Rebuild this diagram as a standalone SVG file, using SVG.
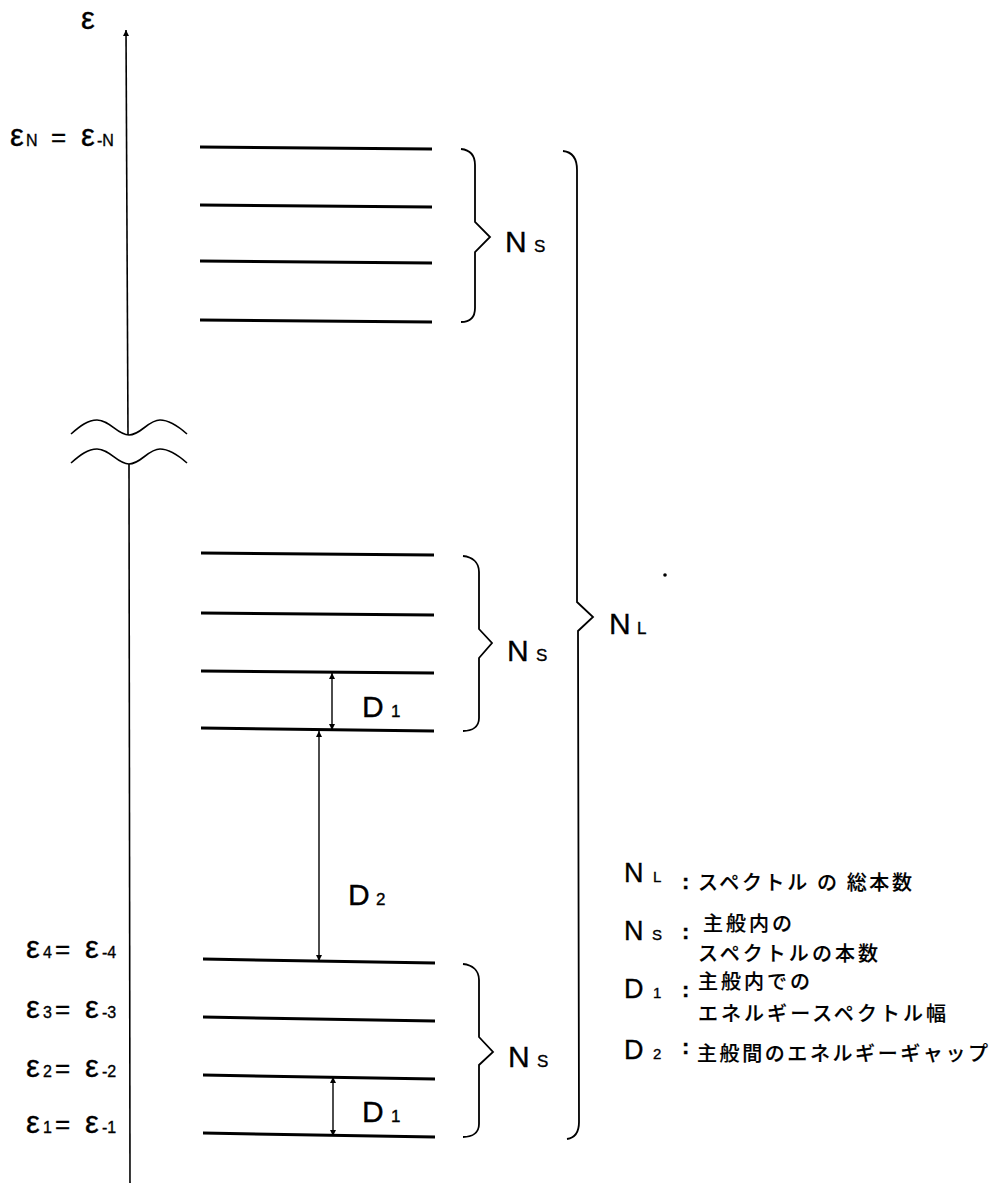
<svg xmlns="http://www.w3.org/2000/svg" width="998" height="1183" viewBox="0 0 998 1183">
<style>
.lvl{stroke:#000;stroke-width:3;fill:none}
.ax{stroke:#000;stroke-width:1.6;fill:none}
.br{stroke:#000;stroke-width:1.8;fill:none;stroke-linejoin:miter}
.arr{stroke:#000;stroke-width:1.4;fill:none;marker-start:url(#ah);marker-end:url(#ah)}
.t{font-family:"Liberation Sans",Arial,sans-serif;fill:#000;stroke:#000;stroke-width:0.35}
.big{font-size:30px}
.sub{font-size:17px}
.eps{font-size:31px}
.esub{font-size:16px}
.eq{font-size:26px}
.leg{font-size:27px}
.lsub{font-size:15px}
.col{font-size:22px;font-weight:bold}
.jp{font-family:"Noto Sans CJK JP",sans-serif;font-size:20px;font-weight:500;fill:#000;stroke:#000;stroke-width:0.15}
</style>
<defs>
<marker id="ah" viewBox="0 0 10 10" refX="10" refY="5" markerWidth="7" markerHeight="6" orient="auto-start-reverse" markerUnits="userSpaceOnUse">
<path d="M0,0 L10,5 L0,10 z" fill="#000"/>
</marker>
<marker id="axh" viewBox="0 0 10 10" refX="10" refY="5" markerWidth="9" markerHeight="6" orient="auto" markerUnits="userSpaceOnUse">
<path d="M0,0 L10,5 L0,10 z" fill="#000"/>
</marker>
</defs>

<g id="axis">
<line class="ax" x1="128" y1="435" x2="126" y2="30" marker-end="url(#axh)"/>
<line class="ax" x1="129" y1="464" x2="130" y2="1183"/>
<path class="ax" d="M71,434 C80,426 88,420 97,420 C110,420 117,435 129,435 C141,435 148,420 160,420 C169,420 178,426 187,434"/>
<path class="ax" d="M71,463 C80,455 88,449 97,449 C110,449 117,464 129,464 C141,464 148,449 160,449 C169,449 178,455 187,463"/>
<text class="t eps" x="81" y="29">ε</text>
</g>

<g id="labels-eps">
<text class="t" y="146"><tspan class="eps" x="10">ε</tspan><tspan class="esub" x="26">N</tspan><tspan class="eq" x="51">=</tspan><tspan class="eps" x="81">ε</tspan><tspan class="esub" x="97">-N</tspan></text>
<text class="t" y="958"><tspan class="eps" x="26">ε</tspan><tspan class="esub" x="43">4</tspan><tspan class="eq" x="55">=</tspan><tspan class="eps" x="85">ε</tspan><tspan class="esub" x="102">-4</tspan></text>
<text class="t" y="1018"><tspan class="eps" x="26">ε</tspan><tspan class="esub" x="43">3</tspan><tspan class="eq" x="55">=</tspan><tspan class="eps" x="85">ε</tspan><tspan class="esub" x="102">-3</tspan></text>
<text class="t" y="1077"><tspan class="eps" x="26">ε</tspan><tspan class="esub" x="43">2</tspan><tspan class="eq" x="55">=</tspan><tspan class="eps" x="85">ε</tspan><tspan class="esub" x="102">-2</tspan></text>
<text class="t" y="1133"><tspan class="eps" x="26">ε</tspan><tspan class="esub" x="43">1</tspan><tspan class="eq" x="55">=</tspan><tspan class="eps" x="85">ε</tspan><tspan class="esub" x="102">-1</tspan></text>
</g>

<g id="levels-top">
<line class="lvl" x1="200" y1="147" x2="432" y2="149"/>
<line class="lvl" x1="200" y1="205" x2="432" y2="207"/>
<line class="lvl" x1="200" y1="261" x2="432" y2="263"/>
<line class="lvl" x1="200" y1="320" x2="432" y2="322"/>
</g>
<g id="levels-mid">
<line class="lvl" x1="201" y1="553" x2="434" y2="555"/>
<line class="lvl" x1="201" y1="613" x2="434" y2="615"/>
<line class="lvl" x1="201" y1="671" x2="434" y2="673"/>
<line class="lvl" x1="201" y1="728" x2="434" y2="731"/>
</g>
<g id="levels-bot">
<line class="lvl" x1="203" y1="959" x2="435" y2="963"/>
<line class="lvl" x1="203" y1="1017" x2="435" y2="1021"/>
<line class="lvl" x1="203" y1="1075" x2="435" y2="1079"/>
<line class="lvl" x1="203" y1="1133" x2="435" y2="1137"/>
</g>

<g id="brace-top">
<path class="br" d="M461,149 C470,150 475,155 475,165 L475,222 L490,237 L475,252 L475,308 C475,318 470,322 461,322"/>
<text class="t" y="252"><tspan class="big" x="505">N</tspan><tspan class="sub" x="534">S</tspan></text>
</g>
<g id="brace-mid">
<path class="br" d="M463,556 C472,557 479,562 479,572 L479,629 L492,643 L479,658 L479,718 C479,727 472,731 463,731"/>
<text class="t" y="661"><tspan class="big" x="507">N</tspan><tspan class="sub" x="536">S</tspan></text>
</g>
<g id="brace-bot">
<path class="br" d="M463,964 C472,965 479,970 479,980 L479,1037 L493,1052 L479,1065 L479,1124 C479,1133 472,1137 463,1137"/>
<text class="t" y="1067"><tspan class="big" x="508">N</tspan><tspan class="sub" x="537">S</tspan></text>
</g>
<g id="brace-big">
<path class="br" d="M563,151 C572,152 577,158 577,170 L577,602 L593,617 L578,631 L579,1122 C579,1133 574,1138 567,1139"/>
<text class="t" y="634"><tspan class="big" x="609">N</tspan><tspan class="sub" x="637">L</tspan></text>
</g>

<g id="connectors">
<line class="arr" x1="332" y1="673" x2="332" y2="730"/>
<line class="arr" x1="319" y1="731" x2="319" y2="961"/>
<line class="arr" x1="333" y1="1077" x2="333" y2="1136"/>
</g>
<g id="gap-labels">
<text class="t" y="717"><tspan class="big" x="362">D</tspan><tspan class="sub" x="391">1</tspan></text>
<text class="t" y="905"><tspan class="big" x="348">D</tspan><tspan class="sub" x="376">2</tspan></text>
<text class="t" y="1122"><tspan class="big" x="362">D</tspan><tspan class="sub" x="391">1</tspan></text>
</g>

<g id="legend">
<text class="t" y="882"><tspan class="leg" x="624">N</tspan><tspan class="lsub" x="653">L</tspan></text>
<text class="t col" x="682" y="889">:</text>
<text class="jp" x="698" y="890" textLength="214" lengthAdjust="spacing">スペクトル の 総本数</text>

<text class="t" y="940"><tspan class="leg" x="624">N</tspan><tspan class="lsub" x="652">S</tspan></text>
<text class="t col" x="682" y="939">:</text>
<text class="jp" x="703" y="931" textLength="89" lengthAdjust="spacing">主般内の</text>
<text class="jp" x="698" y="961" textLength="180" lengthAdjust="spacing">スペクトルの本数</text>

<text class="t" y="998"><tspan class="leg" x="624">D</tspan><tspan class="lsub" x="653">1</tspan></text>
<text class="t col" x="682" y="997">:</text>
<text class="jp" x="698" y="989" textLength="112" lengthAdjust="spacing">主般内での</text>
<text class="jp" x="698" y="1021" textLength="248" lengthAdjust="spacing">エネルギースペクトル幅</text>

<text class="t" y="1059"><tspan class="leg" x="624">D</tspan><tspan class="lsub" x="653">2</tspan></text>
<text class="t col" x="682" y="1054">:</text>
<text class="jp" x="697" y="1061" textLength="291" lengthAdjust="spacing">主般間のエネルギーギャップ</text>
</g>

<circle cx="665" cy="575" r="1.8" fill="#000"/>
</svg>
